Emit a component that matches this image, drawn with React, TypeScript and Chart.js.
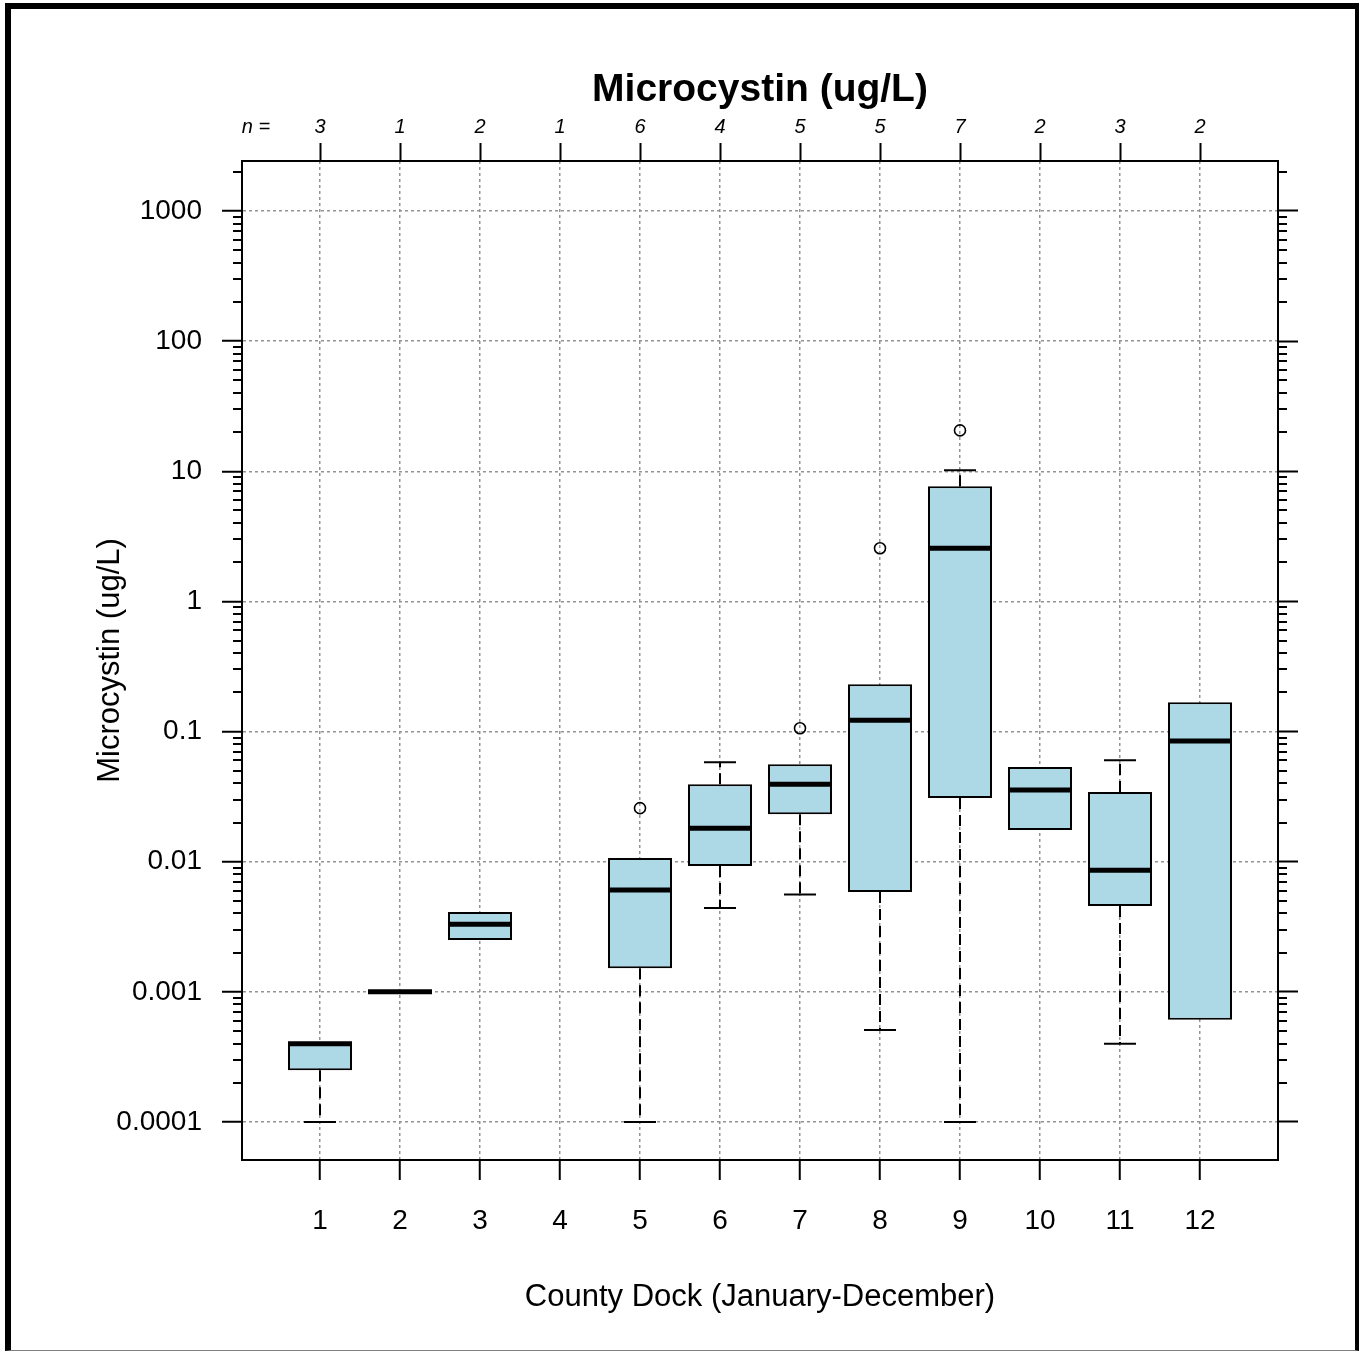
import React, { useEffect, useRef } from 'react';
import { Chart, registerables } from 'chart.js';

Chart.register(...registerables);

// ---- data ----
const months = [1, 2, 3, 4, 5, 6, 7, 8, 9, 10, 11, 12];
const sampleCounts = [3, 1, 2, 1, 6, 4, 5, 5, 7, 2, 3, 2];
const lowerWhisker = [0.0001, 0.001, 0.0025, null, 0.0001, 0.0044, 0.0056, 0.00051, 0.0001, 0.0175, 0.0004, 0.00061];
const lowerHinge = [0.00025, 0.001, 0.0025, null, 0.00152, 0.00925, 0.0232, 0.00584, 0.0308, 0.0175, 0.00456, 0.00061];
const medians = [0.0004, 0.001, 0.0033, null, 0.00605, 0.0181, 0.0394, 0.1224, 2.56, 0.0355, 0.0086, 0.0845];
const upperHinge = [0.0004, 0.001, 0.0041, null, 0.01067, 0.0394, 0.0562, 0.231, 7.67, 0.0533, 0.0343, 0.168];
const upperWhisker = [0.0004, 0.001, 0.0041, null, 0.01067, 0.0582, 0.0562, 0.231, 10.2, 0.0533, 0.0603, 0.168];
const outlierMonths = [5, 7, 8, 9];
const outlierValues = [0.0258, 0.106, 2.56, 20.6];

const yTickValues = [0.0001, 0.001, 0.01, 0.1, 1, 10, 100, 1000];
const yTickLabels = ['0.0001', '0.001', '0.01', '0.1', '1', '10', '100', '1000'];
const minorMultipliers = [2, 3, 4, 5, 6, 7, 8, 9];
const minorDecades = [-4, -3, -2, -1, 0, 1, 2, 3];
const nLabel = 'n =';

const chartTitle = 'Microcystin (ug/L)';
const xTitle = 'County Dock (January-December)';
const yTitle = 'Microcystin (ug/L)';

// ---- layout / style ----
const X_MIN = 0.025;
const X_MAX = 12.975;
const N_LABEL_POS = 0.2;
const Y_MIN = 5.105e-5;
const Y_MAX = 2421;
const BOX_HALF = 0.4;
const CAP_HALF = 0.2;
const FONT = '"Liberation Sans", Arial, sans-serif';
const GRID = '#939393';
const BOX_FILL = '#ADD8E6';

const minorTickPlugin = {
  id: 'minorLogTicks',
  afterDraw(chart: any) {
    const ctx = chart.ctx;
    const left = chart.scales.y;
    const right = chart.scales.y2;
    ctx.save();
    ctx.strokeStyle = '#000';
    ctx.lineWidth = 2;
    ctx.beginPath();
    for (const d of minorDecades) {
      for (const m of minorMultipliers) {
        const v = m * Math.pow(10, d);
        if (v > left.max || v < left.min) continue;
        const py = Math.round(left.getPixelForValue(v));
        ctx.moveTo(left.right - 9, py);
        ctx.lineTo(left.right, py);
        ctx.moveTo(right.left, py);
        ctx.lineTo(right.left + 9, py);
      }
    }
    ctx.stroke();
    ctx.restore();
  },
};

function buildDatasets() {
  const boxes: any[] = [];
  const medianPts: any[] = [];
  const whiskerPts: any[] = [];
  const capPts: any[] = [];
  months.forEach((m, i) => {
    const q1 = lowerHinge[i];
    const q3 = upperHinge[i];
    const med = medians[i];
    const lo = lowerWhisker[i];
    const hi = upperWhisker[i];
    if (med == null) return;
    if (q1 != null && q3 != null && q3 > q1) boxes.push({ x: m, y: [q1, q3] });
    medianPts.push({ x: m - BOX_HALF, y: med }, { x: m + BOX_HALF, y: med }, { x: m, y: null });
    if (hi != null && q3 != null && hi > q3) {
      whiskerPts.push({ x: m, y: q3 }, { x: m, y: hi }, { x: m, y: null });
      capPts.push({ x: m - CAP_HALF, y: hi }, { x: m + CAP_HALF, y: hi }, { x: m, y: null });
    }
    if (lo != null && q1 != null && lo < q1) {
      whiskerPts.push({ x: m, y: q1 }, { x: m, y: lo }, { x: m, y: null });
      capPts.push({ x: m - CAP_HALF, y: lo }, { x: m + CAP_HALF, y: lo }, { x: m, y: null });
    }
  });
  const outlierPts = outlierMonths.map((m, i) => ({ x: m, y: outlierValues[i] }));
  const lineBase = { type: 'line', pointRadius: 0, spanGaps: false, fill: false, tension: 0 };
  return [
    {
      type: 'bar', label: 'box', data: boxes, order: 4,
      backgroundColor: BOX_FILL, borderColor: '#000', borderWidth: 2, borderSkipped: false,
      categoryPercentage: 0.8, barPercentage: 1.0,
    },
    { ...lineBase, label: 'whisker', data: whiskerPts, order: 3, borderColor: '#000', borderWidth: 2, borderDash: [11, 6] },
    { ...lineBase, label: 'cap', data: capPts, order: 2, borderColor: '#000', borderWidth: 2 },
    { ...lineBase, label: 'median', data: medianPts, order: 1, borderColor: '#000', borderWidth: 5 },
    {
      type: 'line', label: 'outlier', data: outlierPts, order: 0, showLine: false,
      pointRadius: 5.5, pointBorderWidth: 1.6, pointBorderColor: '#000', pointBackgroundColor: 'rgba(0,0,0,0)',
    },
  ];
}

export default function App() {
  const canvasRef = useRef<HTMLCanvasElement | null>(null);

  useEffect(() => {
    if (!canvasRef.current) return;
    const chart = new Chart(canvasRef.current, {
      type: 'bar',
      data: { datasets: buildDatasets() as any },
      plugins: [minorTickPlugin],
      options: {
        responsive: false,
        animation: false,
        events: [],
        devicePixelRatio: 1,
        layout: { padding: 0 },
        plugins: { legend: { display: false }, tooltip: { enabled: false }, title: { display: false } },
        scales: {
          x: {
            type: 'linear', position: 'bottom', min: X_MIN, max: X_MAX, offset: false,
            afterBuildTicks: (s: any) => { s.ticks = months.map((v) => ({ value: v })); },
            afterFit: (s: any) => { s.height = 192; },
            grid: { display: true, drawOnChartArea: true, offset: false, color: GRID, lineWidth: 1.5, tickLength: 20, tickColor: '#000', tickWidth: 2 },
            border: { display: true, color: '#000', width: 2, dash: [3, 3] },
            ticks: {
              autoSkip: false, maxRotation: 0, padding: 24, color: '#000',
              font: { family: FONT, size: 28 },
              callback: (_v: any, i: number) => String(months[i]),
            },
            title: { display: true, text: xTitle, color: '#000', font: { family: FONT, size: 31 }, padding: { top: 0, bottom: 36 } },
          },
          x2: {
            type: 'linear', position: 'top', min: X_MIN, max: X_MAX, offset: false,
            afterBuildTicks: (s: any) => { s.ticks = [{ value: N_LABEL_POS }, ...months.map((v) => ({ value: v }))]; },
            afterFit: (s: any) => { s.height = 161; },
            grid: {
              display: true, drawOnChartArea: false, offset: false, tickLength: 18, tickWidth: 2,
              tickColor: (c: any) => (c.index === 0 ? 'rgba(0,0,0,0)' : '#000'),
            },
            border: { display: true, color: '#000', width: 2 },
            ticks: {
              autoSkip: false, maxRotation: 0, padding: 4, color: '#000',
              font: { family: FONT, size: 20, style: 'italic' },
              callback: (_v: any, i: number) => (i === 0 ? nLabel : String(sampleCounts[i - 1])),
            },
            title: { display: true, text: chartTitle, color: '#000', font: { family: FONT, size: 39, weight: 'bold' }, padding: { top: 67, bottom: 0 } },
          },
          y: {
            type: 'logarithmic', position: 'left', min: Y_MIN, max: Y_MAX,
            afterBuildTicks: (s: any) => { s.ticks = yTickValues.map((v) => ({ value: v })); },
            afterFit: (s: any) => { s.width = 242; },
            grid: { display: true, drawOnChartArea: true, color: GRID, lineWidth: 1.5, tickLength: 20, tickColor: '#000', tickWidth: 2 },
            border: { display: true, color: '#000', width: 2, dash: [3, 3] },
            ticks: {
              autoSkip: false, padding: 20, color: '#000',
              font: { family: FONT, size: 28 },
              callback: (_v: any, i: number) => yTickLabels[i],
            },
            title: { display: true, text: yTitle, color: '#000', font: { family: FONT, size: 31 }, padding: { top: 92, bottom: 0 } },
          },
          y2: {
            type: 'logarithmic', position: 'right', min: Y_MIN, max: Y_MAX,
            afterBuildTicks: (s: any) => { s.ticks = yTickValues.map((v) => ({ value: v })); },
            afterFit: (s: any) => { s.width = 81; },
            grid: { display: true, drawOnChartArea: false, tickLength: 20, tickColor: '#000', tickWidth: 2 },
            border: { display: true, color: '#000', width: 2 },
            ticks: { display: false },
          },
        },
      } as any,
    });
    return () => chart.destroy();
  }, []);

  return (
    <div style={{ position: 'absolute', left: 0, top: 0, width: 1359, height: 1352, background: '#fff', overflow: 'hidden' }}>
      <canvas ref={canvasRef} width={1359} height={1352} style={{ display: 'block', position: 'absolute', left: 0, top: 0 }} />
      <div
        style={{
          position: 'absolute', left: 5, top: 3, width: 1354, height: 1348, boxSizing: 'border-box',
          borderTop: '6px solid #000', borderLeft: '6px solid #000', borderRight: '4px solid #000',
          borderBottom: '1px solid #808080', pointerEvents: 'none',
        }}
      />
    </div>
  );
}
